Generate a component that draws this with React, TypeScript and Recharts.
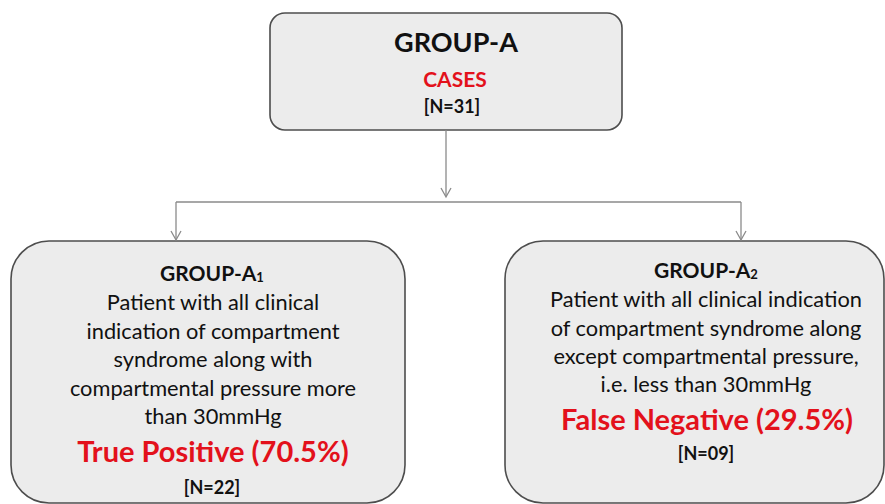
import React from "react";
import {
  ComposedChart,
  XAxis,
  YAxis,
  ReferenceArea,
  ReferenceLine,
  Scatter,
} from "recharts";

// ─── Data ──────────────────────────────────────────────────────────────────

const W = 885;
const H = 504;

// node boxes in page coordinates (x right, y down)
const boxes = [
  { id: "A", x1: 270, x2: 622, y1: 13, y2: 130, r: 15 },
  { id: "A1", x1: 11, x2: 405, y1: 241, y2: 503, r: 38 },
  { id: "A2", x1: 505, x2: 884, y1: 241, y2: 503, r: 38 },
];

// connector segments
const connectors = [
  { from: { x: 446, y: 130 }, to: { x: 446, y: 196 } },
  { from: { x: 176, y: 202 }, to: { x: 741, y: 202 } },
  { from: { x: 176, y: 202 }, to: { x: 176, y: 240 } },
  { from: { x: 741, y: 202 }, to: { x: 741, y: 240 } },
];

const arrowTips = [
  { x: 446, y: 197 },
  { x: 176, y: 240 },
  { x: 741, y: 240 },
];

// text lines: kind -> style
const labels = [
  { x: 456, y: 52, text: "GROUP-A", kind: "title" },
  { x: 455, y: 87, text: "CASES", kind: "red" },
  { x: 452, y: 113, text: "[N=31]", kind: "n" },

  { x: 212, y: 281, text: "GROUP-A", sub: "1", kind: "sub" },
  { x: 213, y: 310, text: "Patient with all clinical", kind: "body" },
  { x: 213, y: 339, text: "indication of compartment", kind: "body" },
  { x: 213, y: 367, text: "syndrome along with", kind: "body" },
  { x: 213, y: 396, text: "compartmental pressure more", kind: "body" },
  { x: 213, y: 424, text: "than 30mmHg", kind: "body" },
  { x: 213, y: 462, text: "True Positive (70.5%)", kind: "big" },
  { x: 212, y: 494, text: "[N=22]", kind: "n" },

  { x: 706, y: 278, text: "GROUP-A", sub: "2", kind: "sub" },
  { x: 706, y: 307, text: "Patient with all clinical indication", kind: "body" },
  { x: 706, y: 336, text: "of compartment syndrome along", kind: "body" },
  { x: 706, y: 364, text: "except compartmental pressure,", kind: "body" },
  { x: 706, y: 392, text: "i.e. less than 30mmHg", kind: "body" },
  { x: 707, y: 430, text: "False Negative (29.5%)", kind: "big" },
  { x: 706, y: 460, text: "[N=09]", kind: "n" },
];

// ─── Styles ────────────────────────────────────────────────────────────────

const FONT = "Lato, 'Open Sans', sans-serif";
const RED = "#e3111b";
const INK = "#111";

const kindStyle: Record<string, { size: number; weight: number; color: string }> = {
  title: { size: 27, weight: 700, color: INK },
  red: { size: 21, weight: 700, color: RED },
  n: { size: 18, weight: 700, color: INK },
  sub: { size: 21, weight: 700, color: INK },
  body: { size: 21.8, weight: 400, color: INK },
  big: { size: 29, weight: 700, color: RED },
};

// ─── Shapes ────────────────────────────────────────────────────────────────

function RoundBox(props: any, r: number) {
  const { x, y, width, height } = props;
  return (
    <rect
      x={x}
      y={y}
      width={width}
      height={height}
      rx={r}
      ry={r}
      fill="#ececec"
      stroke="#4d4d4d"
      strokeWidth={1.6}
    />
  );
}

function ArrowHead(props: any) {
  const { cx, cy } = props;
  if (cx == null || cy == null) return null;
  return (
    <path
      d={`M${cx - 5},${cy - 9} L${cx},${cy} L${cx + 5},${cy - 9}`}
      fill="none"
      stroke="#8a8a8a"
      strokeWidth={1.3}
    />
  );
}

function Label(props: any) {
  const { cx, cy, payload } = props;
  if (cx == null || cy == null || !payload) return null;
  const s = kindStyle[payload.kind];
  return (
    <text
      x={cx}
      y={cy}
      textAnchor="middle"
      fontFamily={FONT}
      fontSize={s.size}
      fontWeight={s.weight}
      fill={s.color}
    >
      {payload.text}
      {payload.sub && (
        <tspan fontSize={s.size * 0.62} dy={1}>
          {payload.sub}
        </tspan>
      )}
    </text>
  );
}

// ─── Main Component ────────────────────────────────────────────────────────

export default function App() {
  return (
    <div style={{ width: W, height: H, background: "#fff" }}>
      <style>{`body{margin:0}`}</style>
      <ComposedChart
        width={W}
        height={H}
        margin={{ top: 0, right: 0, bottom: 0, left: 0 }}
      >
        <XAxis type="number" dataKey="x" domain={[0, W]} hide allowDataOverflow />
        <YAxis type="number" dataKey="y" domain={[0, H]} reversed hide allowDataOverflow />

        {boxes.map((b) => (
          <ReferenceArea
            key={b.id}
            x1={b.x1}
            x2={b.x2}
            y1={b.y1}
            y2={b.y2}
            ifOverflow="visible"
            shape={(p: any) => RoundBox(p, b.r)}
          />
        ))}

        {connectors.map((c, i) => (
          <ReferenceLine
            key={i}
            segment={[c.from, c.to]}
            stroke="#8a8a8a"
            strokeWidth={1.3}
            ifOverflow="visible"
          />
        ))}

        <Scatter data={arrowTips} shape={ArrowHead} isAnimationActive={false} />
        <Scatter data={labels} shape={Label} isAnimationActive={false} />
      </ComposedChart>
    </div>
  );
}
